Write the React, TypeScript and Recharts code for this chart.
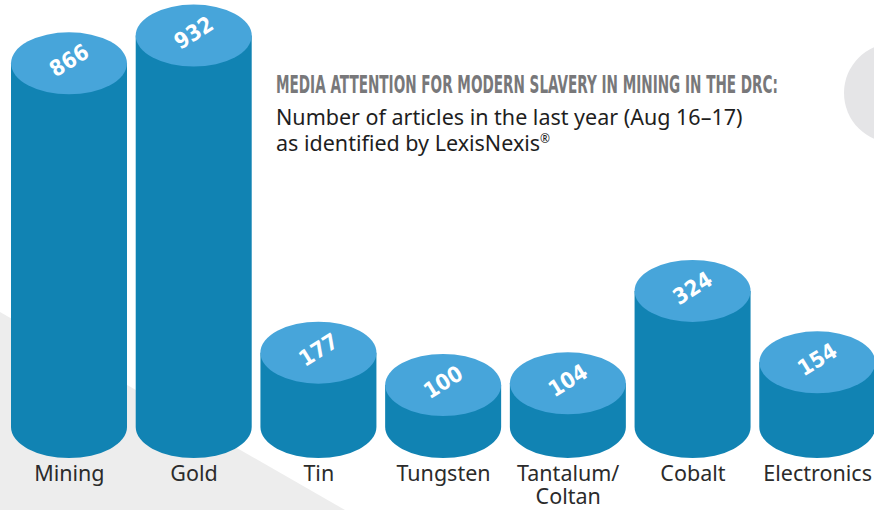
import { BarChart, Bar, XAxis, YAxis, LabelList } from 'recharts'

const categories = ['Mining', 'Gold', 'Tin', 'Tungsten', 'Tantalum/\nColtan', 'Cobalt', 'Electronics']
const articles = [866, 932, 177, 100, 104, 324, 154]

const data = categories.map((name, i) => ({ name, value: articles[i] }))

const SIDE = '#1183b3'
const TOP = '#47a5da'
const RY = 31

function Cylinder(props: any) {
  const { x, y, width, height } = props
  const rx = width / 2
  const cx = x + rx
  const bottom = y + height
  return (
    <g>
      <path
        d={`M${x},${y} L${x},${bottom} A${rx},${RY} 0 0 0 ${x + width},${bottom} L${x + width},${y} Z`}
        fill={SIDE}
      />
      <ellipse cx={cx} cy={y} rx={rx} ry={RY} fill={TOP} />
    </g>
  )
}

function TopLabel(props: any) {
  const { x, y, width, value } = props
  const cx = x + width / 2
  const cy = y - 3
  return (
    <text
      x={cx}
      y={cy}
      dy="0.35em"
      textAnchor="middle"
      fill="#fff"
      fontFamily="'DejaVu Sans Condensed', 'DejaVu Sans'"
      fontWeight="bold"
      fontSize={22}
      transform={`rotate(-32 ${cx} ${cy})`}
    >
      {value}
    </text>
  )
}

function CategoryTick(props: any) {
  const { x, y, payload } = props
  const lines = String(payload.value).split('\n')
  return (
    <text
      x={x}
      y={y + 46}
      textAnchor="middle"
      fill="#2b2b2b"
      fontFamily="'Noto Sans', sans-serif"
      fontSize={21.5}
    >
      {lines.map((l, i) => (
        <tspan key={i} x={x} dy={i === 0 ? 0 : 23}>
          {l}
        </tspan>
      ))}
    </text>
  )
}

export default function App() {
  return (
    <div style={{ position: 'absolute', left: 0, top: 0, width: 874, height: 510, overflow: 'hidden', background: '#fff' }}>
      <svg width={874} height={510} style={{ position: 'absolute', left: 0, top: 0 }}>
        <polygon points="0,312 345,510 0,510" fill="#ededed" />
        <circle cx={894} cy={93} r={50} fill="#e5e5e7" />
      </svg>
      <div style={{ position: 'absolute', left: 0, top: 0 }}>
        <BarChart width={880} height={510} data={data} margin={{ top: 7, right: 0, left: 7, bottom: 0 }}>
          <XAxis
            dataKey="name"
            height={83}
            axisLine={false}
            tickLine={false}
            interval={0}
            tick={<CategoryTick />}
          />
          <YAxis hide domain={[0, 1000]} />
          <Bar dataKey="value" barSize={116} shape={<Cylinder />} isAnimationActive={false}>
            <LabelList dataKey="value" content={<TopLabel />} />
          </Bar>
        </BarChart>
      </div>
      <svg width={874} height={200} style={{ position: 'absolute', left: 0, top: 0 }}>
        <text
          x={276}
          y={93}
          fill="#78787a"
          fontFamily="'DejaVu Sans Condensed', 'DejaVu Sans'"
          fontWeight="bold"
          fontSize={24}
          textLength={502}
          lengthAdjust="spacingAndGlyphs"
        >
          MEDIA ATTENTION FOR MODERN SLAVERY IN MINING IN THE DRC:
        </text>
        <text x={276} y={125} fill="#1e1e1e" fontFamily="'Noto Sans', sans-serif" fontSize={21.5}>
          Number of articles in the last year (Aug 16–17)
        </text>
        <text x={276} y={151} fill="#1e1e1e" fontFamily="'Noto Sans', sans-serif" fontSize={21.5}>
          as identified by LexisNexis
          <tspan fontSize={12} dy={-8}>®</tspan>
        </text>
      </svg>
    </div>
  )
}
